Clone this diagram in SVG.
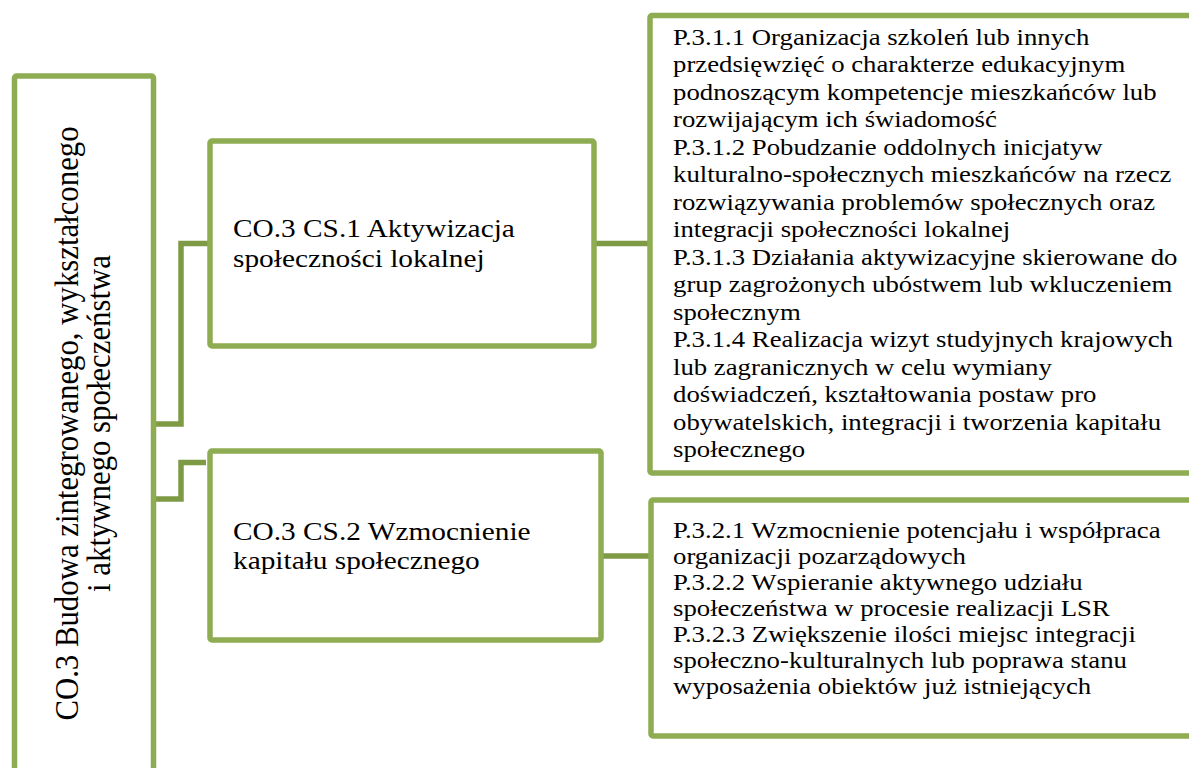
<svg xmlns="http://www.w3.org/2000/svg" width="1189" height="768" viewBox="0 0 1189 768">
<style>
.box{fill:#ffffff;stroke:#8EAC51;stroke-width:5.5;stroke-linejoin:round}
.con{fill:none;stroke:#7E9A45;stroke-width:5.5;stroke-linejoin:miter}
.t{font-family:"Liberation Serif","Times New Roman",serif;fill:#000000}
.big{font-size:30.8px}
.mid{font-size:26.2px}
.sm{font-size:23.9px}
</style>
<rect width="1189" height="768" fill="#ffffff"/>
<g id="connectors">
<path class="con" d="M154,424 H181 V243.5 H208"/>
<path class="con" d="M154,499 H181 V462.5 H206"/>
<path class="con" d="M596,243.5 H648"/>
<path class="con" d="M603,556 H649"/>
</g>
<g id="root">
<rect class="box" x="14.5" y="76" width="139" height="760" rx="2"/>
<text class="t big" text-anchor="middle" transform="translate(78,423.5) scale(1.12,1) rotate(-90)"><tspan x="0" y="0">CO.3 Budowa zintegrowanego, wykształconego</tspan><tspan x="0" y="28.6">i aktywnego społeczeństwa</tspan></text>
</g>
<g id="cs1">
<rect class="box" x="210" y="141" width="384" height="205" rx="2"/>
<text class="t mid" transform="translate(233,0) scale(1.12,1)"><tspan x="0" y="237.3">CO.3 CS.1 Aktywizacja</tspan><tspan x="0" y="267">społeczności lokalnej</tspan></text>
</g>
<g id="cs2">
<rect class="box" x="210" y="451" width="391" height="189" rx="2"/>
<text class="t mid" transform="translate(233,0) scale(1.12,1)"><tspan x="0" y="540">CO.3 CS.2 Wzmocnienie</tspan><tspan x="0" y="569.5">kapitału społecznego</tspan></text>
</g>
<g id="p31">
<rect class="box" x="650" y="15.5" width="600" height="457.5" rx="2"/>
<text class="t sm" transform="translate(673,0) scale(1.12,1)">
<tspan x="0" y="45">P.3.1.1 Organizacja szkoleń lub innych</tspan>
<tspan x="0" y="72.5">przedsięwzięć o charakterze edukacyjnym</tspan>
<tspan x="0" y="100">podnoszącym kompetencje mieszkańców lub</tspan>
<tspan x="0" y="127.5">rozwijającym ich świadomość</tspan>
<tspan x="0" y="155">P.3.1.2 Pobudzanie oddolnych inicjatyw</tspan>
<tspan x="0" y="182.5">kulturalno-społecznych mieszkańców na rzecz</tspan>
<tspan x="0" y="210">rozwiązywania problemów społecznych oraz</tspan>
<tspan x="0" y="237.5">integracji społeczności lokalnej</tspan>
<tspan x="0" y="265">P.3.1.3 Działania aktywizacyjne skierowane do</tspan>
<tspan x="0" y="292.5">grup zagrożonych ubóstwem lub wkluczeniem</tspan>
<tspan x="0" y="320">społecznym</tspan>
<tspan x="0" y="347.5">P.3.1.4 Realizacja wizyt studyjnych krajowych</tspan>
<tspan x="0" y="375">lub zagranicznych w celu wymiany</tspan>
<tspan x="0" y="402.5">doświadczeń, kształtowania postaw pro</tspan>
<tspan x="0" y="430">obywatelskich, integracji i tworzenia kapitału</tspan>
<tspan x="0" y="457.5">społecznego</tspan>
</text>
</g>
<g id="p32">
<rect class="box" x="651" y="500" width="600" height="236" rx="2"/>
<text class="t sm" transform="translate(673,0) scale(1.12,1)">
<tspan x="0" y="538">P.3.2.1 Wzmocnienie potencjału i współpraca</tspan>
<tspan x="0" y="564">organizacji pozarządowych</tspan>
<tspan x="0" y="590">P.3.2.2 Wspieranie aktywnego udziału</tspan>
<tspan x="0" y="616">społeczeństwa w procesie realizacji LSR</tspan>
<tspan x="0" y="642">P.3.2.3 Zwiększenie ilości miejsc integracji</tspan>
<tspan x="0" y="668">społeczno-kulturalnych lub poprawa stanu</tspan>
<tspan x="0" y="694">wyposażenia obiektów już istniejących</tspan>
</text>
</g>
</svg>
